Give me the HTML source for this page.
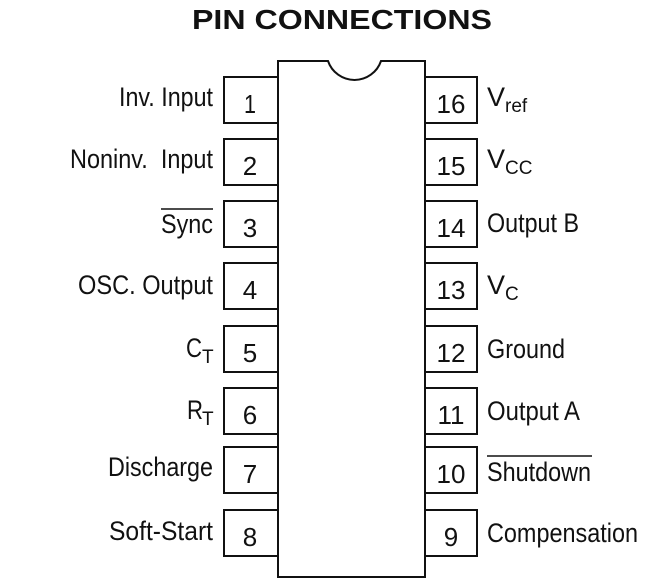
<!DOCTYPE html>
<html><head><meta charset="utf-8"><style>
html,body{margin:0;padding:0;background:#fff;}
svg{display:block;}
text{font-family:"Liberation Sans",Arial,sans-serif;fill:#111;}
</style></head><body>
<svg width="667" height="584" viewBox="0 0 667 584" xmlns="http://www.w3.org/2000/svg">
<text x="342" y="29" text-anchor="middle" font-size="28" font-weight="bold" textLength="300" lengthAdjust="spacingAndGlyphs">PIN CONNECTIONS</text>
<g fill="none" stroke="#111" stroke-width="2">
<path d="M278,577 L278,61 L328,61 A28,28 0 0 0 381,61 L425,61 L425,577 Z"/>
<rect x="224" y="77" width="54" height="46"/>
<rect x="224" y="139" width="54" height="46"/>
<rect x="224" y="201" width="54" height="46"/>
<rect x="224" y="263" width="54" height="46"/>
<rect x="224" y="326" width="54" height="46"/>
<rect x="224" y="388" width="54" height="46"/>
<rect x="224" y="447" width="54" height="46"/>
<rect x="224" y="510" width="54" height="46"/>
<rect x="425" y="77" width="52" height="46"/>
<rect x="425" y="139" width="52" height="46"/>
<rect x="425" y="201" width="52" height="46"/>
<rect x="425" y="263" width="52" height="46"/>
<rect x="425" y="326" width="52" height="46"/>
<rect x="425" y="388" width="52" height="46"/>
<rect x="425" y="447" width="52" height="46"/>
<rect x="425" y="510" width="52" height="46"/>
<line x1="161" y1="209" x2="213" y2="209" stroke-width="1.5"/>
<line x1="487" y1="456" x2="592" y2="456" stroke-width="1.5"/>
</g>
<g font-size="26" text-anchor="middle">
<text x="250" y="113" textLength="12" lengthAdjust="spacingAndGlyphs">1</text><text x="250" y="175">2</text><text x="250" y="237">3</text><text x="250" y="299">4</text>
<text x="250" y="362">5</text><text x="250" y="424">6</text><text x="250" y="483">7</text><text x="250" y="546">8</text>
<text x="451" y="113">16</text><text x="451" y="175">15</text><text x="451" y="237">14</text><text x="451" y="299">13</text>
<text x="451" y="362">12</text><text x="451" y="424">11</text><text x="451" y="483">10</text><text x="451" y="546">9</text>
</g>
<g font-size="27" text-anchor="end">
<text x="213" y="106" textLength="94" lengthAdjust="spacingAndGlyphs">Inv. Input</text>
<text x="213" y="168" textLength="143" lengthAdjust="spacingAndGlyphs">Noninv.&#160; Input</text>
<text x="213" y="233" textLength="52" lengthAdjust="spacingAndGlyphs">Sync</text>
<text x="213" y="294" textLength="135" lengthAdjust="spacingAndGlyphs">OSC. Output</text>
<text x="213" y="476" textLength="105" lengthAdjust="spacingAndGlyphs">Discharge</text>
<text x="213" y="540" textLength="104" lengthAdjust="spacingAndGlyphs">Soft-Start</text>
</g>
<text x="186" y="357" font-size="27" textLength="16" lengthAdjust="spacingAndGlyphs">C</text><text x="202" y="363" font-size="19">T</text>
<text x="187" y="419" font-size="27" textLength="16" lengthAdjust="spacingAndGlyphs">R</text><text x="202" y="425" font-size="19">T</text>
<g font-size="27">
<text x="487" y="106">V<tspan font-size="19" dy="6">ref</tspan></text>
<text x="487" y="168">V<tspan font-size="19" dy="6">CC</tspan></text>
<text x="487" y="232" textLength="92" lengthAdjust="spacingAndGlyphs">Output B</text>
<text x="487" y="294">V<tspan font-size="19" dy="6">C</tspan></text>
<text x="487" y="358" textLength="78" lengthAdjust="spacingAndGlyphs">Ground</text>
<text x="487" y="420" textLength="93" lengthAdjust="spacingAndGlyphs">Output A</text>
<text x="487" y="481" textLength="104" lengthAdjust="spacingAndGlyphs">Shutdown</text>
<text x="487" y="542" textLength="151" lengthAdjust="spacingAndGlyphs">Compensation</text>
</g>
</svg>
</body></html>
